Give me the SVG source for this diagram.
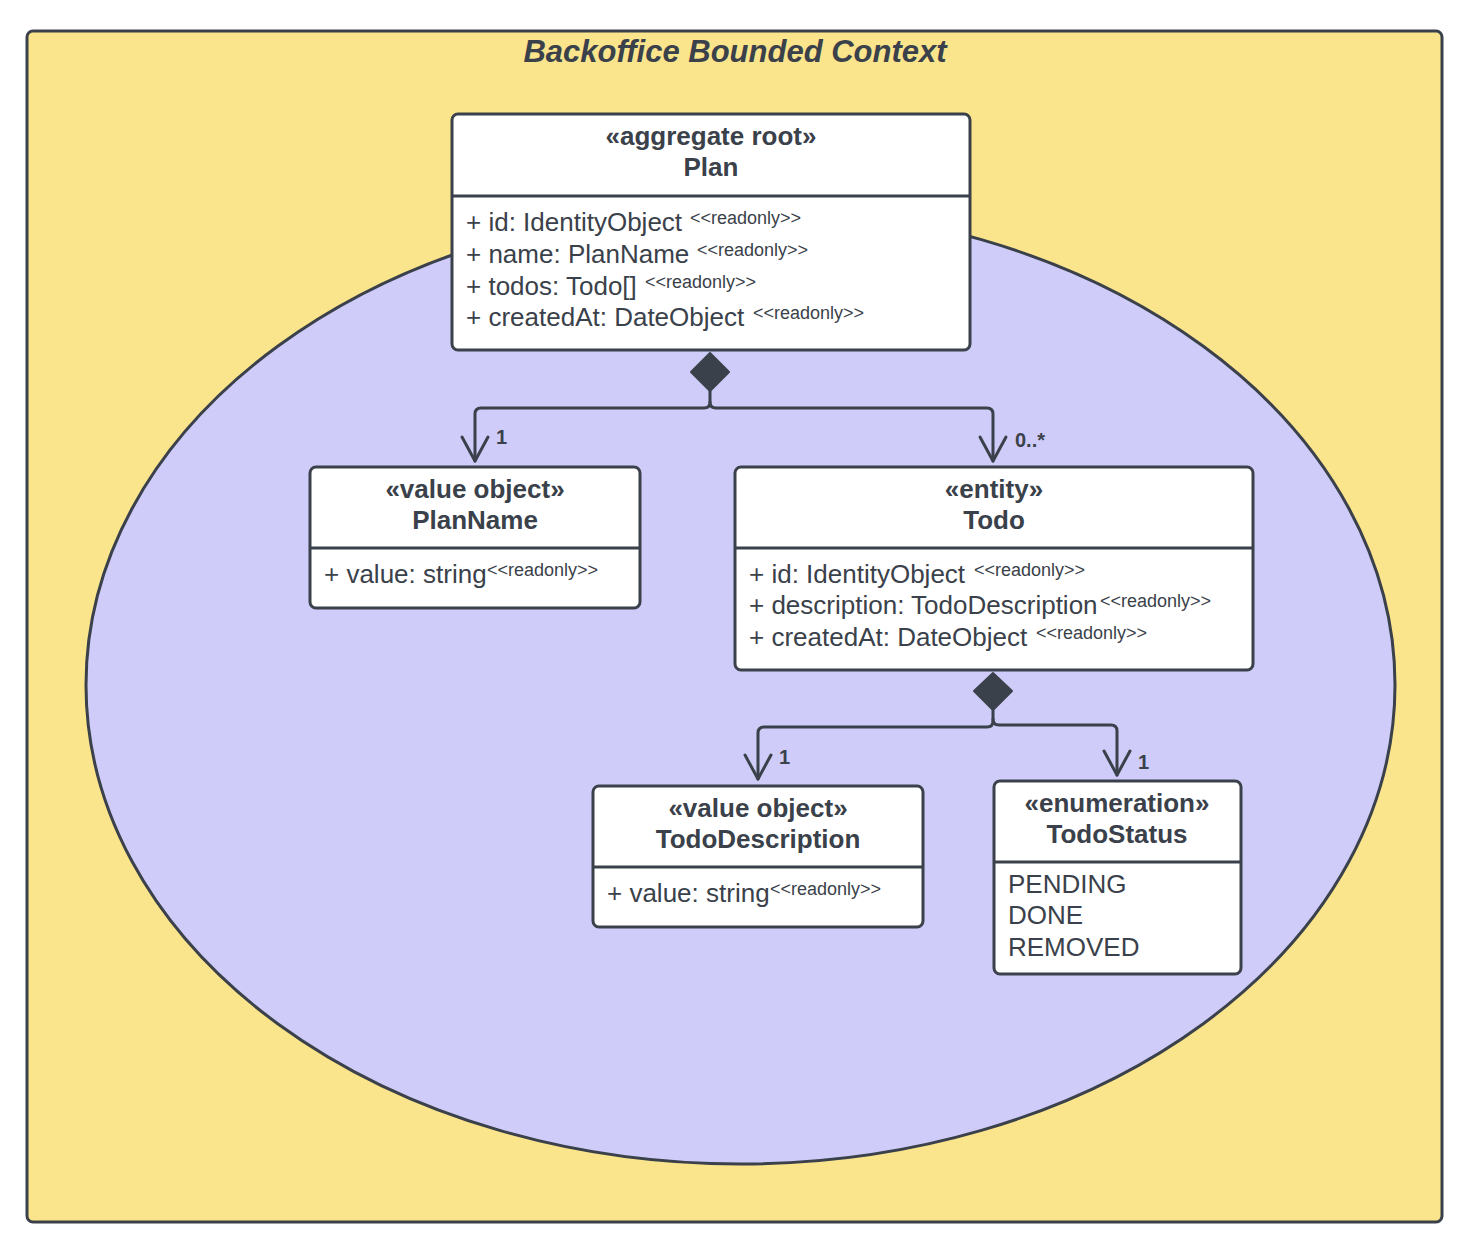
<svg xmlns="http://www.w3.org/2000/svg" width="1476" height="1260" viewBox="0 0 1476 1260">
<style>
.ln{stroke:#3a414a;stroke-width:3;fill:none;stroke-linejoin:round;stroke-linecap:round}
.box{fill:#ffffff;stroke:#3a414a;stroke-width:3}
.div{stroke:#3a414a;stroke-width:3}
text{font-family:"Liberation Sans",Arial,sans-serif;fill:#3a414a}
.hd{font-size:26px;font-weight:bold;text-anchor:middle}
.at{font-size:26px}
.ro{font-size:18px}
.ml{font-size:20px;font-weight:bold}
.ttl{font-size:31px;font-weight:bold;font-style:italic;text-anchor:middle}
.dia{fill:#3a414a;stroke:#3a414a;stroke-width:2;stroke-linejoin:round}
</style>
<rect x="27" y="31" width="1415" height="1191" rx="6" fill="#fae48c" stroke="#3a414a" stroke-width="3"/>
<ellipse cx="740.5" cy="685" rx="654.5" ry="479" fill="#cfccf9" stroke="#3a414a" stroke-width="3"/>
<text class="ttl" x="735" y="62">Backoffice Bounded Context</text>

<g id="connectors">
<polygon class="dia" points="710,353 729,372 710,391 691,372"/>
<path class="ln" d="M710,391 V402 Q710,408 704,408 H481 Q475,408 475,414 V461"/>
<path class="ln" d="M710,402 Q710,408 716,408 H987 Q993,408 993,414 V461"/>
<polyline class="ln" points="462,437 475,461 488,437"/>
<polyline class="ln" points="980,437 993,461 1006,437"/>
<text class="ml" x="496" y="444">1</text>
<text class="ml" x="1015" y="447">0..*</text>

<polygon class="dia" points="993,673 1012,691 993,710 974,691"/>
<path class="ln" d="M993,710 V721 Q993,727 987,727 H764 Q758,727 758,733 V779"/>
<path class="ln" d="M993,719 Q993,725 999,725 H1111 Q1117,725 1117,731 V775"/>
<polyline class="ln" points="745,755 758,779 771,755"/>
<polyline class="ln" points="1104,751 1117,775 1130,751"/>
<text class="ml" x="779" y="764">1</text>
<text class="ml" x="1138" y="769">1</text>
</g>

<g id="plan">
<rect class="box" x="452" y="114" width="518" height="236" rx="6"/>
<line class="div" x1="452" y1="196" x2="970" y2="196"/>
<text class="hd" x="711" y="145">«aggregate root»</text>
<text class="hd" x="711" y="176">Plan</text>
<text class="at" x="466" y="231">+ id: IdentityObject</text>
<text class="ro" x="690" y="224">&lt;&lt;readonly&gt;&gt;</text>
<text class="at" x="466" y="263">+ name: PlanName</text>
<text class="ro" x="697" y="256">&lt;&lt;readonly&gt;&gt;</text>
<text class="at" x="466" y="295">+ todos: Todo[]</text>
<text class="ro" x="645" y="288">&lt;&lt;readonly&gt;&gt;</text>
<text class="at" x="466" y="326">+ createdAt: DateObject</text>
<text class="ro" x="753" y="319">&lt;&lt;readonly&gt;&gt;</text>
</g>

<g id="planname">
<rect class="box" x="310" y="467" width="330" height="141" rx="6"/>
<line class="div" x1="310" y1="548" x2="640" y2="548"/>
<text class="hd" x="475" y="498">«value object»</text>
<text class="hd" x="475" y="529">PlanName</text>
<text class="at" x="324" y="583">+ value: string</text>
<text class="ro" x="487" y="576">&lt;&lt;readonly&gt;&gt;</text>
</g>

<g id="todo">
<rect class="box" x="735" y="467" width="518" height="203" rx="6"/>
<line class="div" x1="735" y1="548" x2="1253" y2="548"/>
<text class="hd" x="994" y="498">«entity»</text>
<text class="hd" x="994" y="529">Todo</text>
<text class="at" x="749" y="583">+ id: IdentityObject</text>
<text class="ro" x="974" y="576">&lt;&lt;readonly&gt;&gt;</text>
<text class="at" x="749" y="614">+ description: TodoDescription</text>
<text class="ro" x="1100" y="607">&lt;&lt;readonly&gt;&gt;</text>
<text class="at" x="749" y="646">+ createdAt: DateObject</text>
<text class="ro" x="1036" y="639">&lt;&lt;readonly&gt;&gt;</text>
</g>

<g id="tododescription">
<rect class="box" x="593" y="786" width="330" height="141" rx="6"/>
<line class="div" x1="593" y1="867" x2="923" y2="867"/>
<text class="hd" x="758" y="817">«value object»</text>
<text class="hd" x="758" y="848">TodoDescription</text>
<text class="at" x="607" y="902">+ value: string</text>
<text class="ro" x="770" y="895">&lt;&lt;readonly&gt;&gt;</text>
</g>

<g id="todostatus">
<rect class="box" x="994" y="781" width="247" height="193" rx="6"/>
<line class="div" x1="994" y1="862" x2="1241" y2="862"/>
<text class="hd" x="1117" y="812">«enumeration»</text>
<text class="hd" x="1117" y="843">TodoStatus</text>
<text class="at" x="1008" y="893">PENDING</text>
<text class="at" x="1008" y="924">DONE</text>
<text class="at" x="1008" y="956">REMOVED</text>
</g>
</svg>
